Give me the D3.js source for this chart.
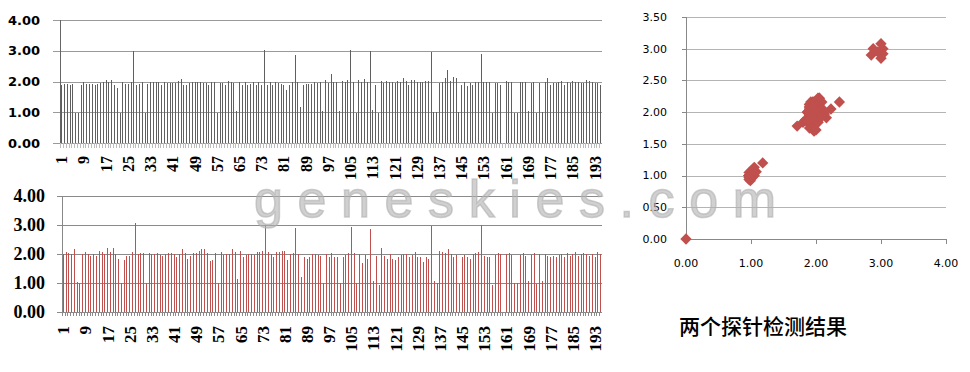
<!DOCTYPE html>
<html>
<head>
<meta charset="utf-8">
<script src="https://cdn.jsdelivr.net/npm/d3@7"></script>
<style>
  body { margin: 0; background: #fff; }
  svg { display: block; }
</style>
</head>
<body>
<svg id="chart" width="970" height="372"></svg>
<script>
// probe 1 (grey bars, top) and probe 2 (red bars, bottom), one value per sample
const probe1 = [
  1.87, 1.92, 1.92, 1.90, 1.92, 0.97, 0.97, 1.90, 2.00, 1.92,
  1.92, 1.92, 1.90, 1.92, 1.95, 2.00, 2.05, 2.00, 2.05, 1.90,
  1.80, 0.97, 1.97, 1.92, 1.92, 2.00, 3.00, 1.87, 1.92, 2.00,
  0.97, 1.92, 1.97, 2.00, 2.00, 1.97, 1.90, 1.97, 1.95, 1.95,
  1.95, 1.95, 2.03, 2.09, 1.90, 1.87, 1.95, 2.00, 1.97, 1.97,
  2.00, 1.95, 1.95, 1.90, 1.97, 1.97, 0.97, 1.95, 1.95, 1.87,
  2.03, 1.97, 1.95, 1.05, 1.97, 1.90, 1.97, 1.90, 1.92, 1.97,
  1.90, 2.00, 1.90, 3.03, 1.90, 1.97, 1.90, 1.97, 1.95, 1.92,
  1.90, 1.71, 1.90, 1.97, 2.85, 2.00, 1.18, 1.87, 1.92, 1.92,
  1.92, 1.97, 1.95, 1.97, 1.03, 2.05, 1.95, 2.23, 1.97, 2.00,
  1.05, 2.03, 1.97, 2.05, 3.03, 1.97, 0.97, 2.05, 1.97, 2.09,
  2.00, 3.00, 1.08, 1.90, 0.99, 2.03, 1.95, 2.03, 1.97, 2.00,
  1.95, 2.03, 1.97, 2.12, 2.03, 1.90, 2.05, 2.05, 2.00, 2.00,
  2.00, 2.03, 2.03, 2.95, 1.02, 1.02, 1.95, 2.00, 2.10, 2.36,
  2.03, 2.16, 2.13, 1.02, 1.90, 2.00, 1.84, 1.95, 1.90, 2.00,
  2.00, 2.88, 2.00, 1.97, 1.97, 0.97, 1.95, 1.95, 1.87, 0,
  2.03, 1.97, 1.97, 0.99, 0.99, 1.97, 2.00, 1.97, 1.05, 1.95,
  2.00, 0.97, 1.95, 1.02, 1.97, 2.10, 1.90, 1.95, 1.95, 2.00,
  2.03, 1.90, 2.00, 1.95, 2.03, 2.00, 2.00, 1.95, 1.95, 2.05,
  2.03, 1.97, 1.95, 1.95, 1.90
]
const probe2 = [
  2.00, 2.08, 2.05, 2.00, 2.16, 1.05, 1.00, 2.00, 2.08, 2.00,
  1.92, 2.00, 1.94, 2.12, 2.08, 2.00, 2.22, 2.08, 2.22, 2.00,
  1.84, 1.00, 1.81, 1.94, 1.92, 2.08, 3.08, 2.00, 2.05, 2.05,
  1.00, 2.05, 2.00, 2.00, 2.05, 1.97, 1.92, 2.00, 2.05, 2.05,
  2.00, 1.91, 2.00, 2.16, 2.05, 1.84, 1.94, 2.05, 2.05, 2.12,
  2.16, 2.16, 2.05, 1.75, 1.81, 2.05, 1.00, 2.08, 1.97, 2.00,
  2.00, 2.16, 2.08, 1.13, 2.12, 1.91, 1.97, 2.00, 2.00, 1.97,
  2.08, 2.08, 2.12, 3.00, 2.08, 2.00, 1.91, 2.08, 2.08, 2.12,
  2.12, 1.78, 2.00, 2.05, 2.90, 2.00, 1.20, 1.88, 1.84, 1.91,
  2.00, 2.00, 1.97, 1.94, 1.00, 2.00, 1.91, 2.05, 1.88, 1.91,
  1.00, 1.91, 1.97, 2.05, 2.92, 2.05, 1.00, 2.00, 1.70, 1.97,
  1.84, 2.85, 1.06, 1.94, 0.92, 2.22, 1.94, 1.84, 2.00, 1.84,
  1.78, 1.88, 1.97, 2.00, 2.00, 1.88, 1.97, 2.08, 1.88, 1.91,
  1.72, 1.88, 1.84, 2.95, 1.06, 1.00, 2.12, 2.08, 2.05, 2.16,
  2.00, 1.91, 1.97, 0.97, 1.91, 1.97, 1.88, 1.84, 2.00, 2.05,
  2.08, 3.00, 1.94, 1.88, 1.88, 0.94, 1.97, 2.05, 2.00, 0,
  2.00, 2.05, 1.97, 1.00, 1.00, 1.97, 2.05, 1.94, 1.06, 1.97,
  2.05, 0.97, 2.00, 1.08, 2.00, 1.94, 1.88, 1.94, 1.91, 1.97,
  2.00, 1.88, 2.05, 1.94, 2.00, 2.08, 1.94, 2.00, 2.05, 2.00,
  1.94, 2.00, 1.91, 2.08, 2.00
]
const samples = d3.range(1, probe1.length + 1)
const sampleLabels = samples.filter(d => (d - 1) % 8 === 0)   // 1, 9, 17 ... 193
const barTicks = [0, 1, 2, 3, 4]
const scatterTicksX = [0, 1, 2, 3, 4]
const scatterTicksY = [0, 0.5, 1, 1.5, 2, 2.5, 3, 3.5]
const title = '两个探针检测结果'
const watermark = 'geneskies.com'

const svg = d3.select('#chart')
svg.append('rect').attr('width', 970).attr('height', 372).attr('fill', '#fff')

const fmt = d3.format('.2f')

function barPanel(values, o) {
  const x = d3.scaleBand().domain(samples).range([o.left, o.right])
  const y = d3.scaleLinear().domain([0, 4]).range([o.bottom, o.top])
  const g = svg.append('g')

  g.selectAll('line.grid').data(barTicks).join('line')
    .attr('x1', o.gridLeft).attr('x2', o.right)
    .attr('y1', d => Math.round(y(d)) + 0.5)
    .attr('y2', d => Math.round(y(d)) + 0.5)
    .attr('stroke', o.gridColor)

  g.selectAll('line.tick').data(samples).join('line')
    .attr('x1', d => Math.round(x(d)) + 0.5)
    .attr('x2', d => Math.round(x(d)) + 0.5)
    .attr('y1', o.bottom).attr('y2', o.bottom + o.tickLen)
    .attr('stroke', o.tickColor)

  g.selectAll('rect.bar').data(values).join('rect')
    .attr('x', (d, i) => Math.round(x(samples[i]) + x.bandwidth() / 2 - 0.5))
    .attr('width', 1)
    .attr('y', d => y(d))
    .attr('height', d => y(0) - y(d))
    .attr('fill', o.barColor)
    .attr('shape-rendering', 'crispEdges')

  g.append('line')
    .attr('x1', Math.round(o.left) + 0.5).attr('x2', Math.round(o.left) + 0.5)
    .attr('y1', y(4)).attr('y2', y(0))
    .attr('stroke', o.axisColor)

  g.selectAll('text.ylab').data(barTicks).join('text')
    .attr('x', o.yLabelX).attr('y', d => y(d))
    .attr('dy', '0.35em')
    .attr('text-anchor', 'end')
    .style('font', o.yFont)
    .attr('fill', '#000')
    .text(fmt)

  g.selectAll('text.xlab').data(sampleLabels).join('text')
    .attr('transform', d => `translate(${x(d) + x.bandwidth() / 2 + o.xLabelShift},${o.xLabelY}) rotate(-90)`)
    .attr('text-anchor', 'end')
    .style('font', o.xFont)
    .attr('fill', '#000')
    .text(d => d)
}

barPanel(probe1, {
  left: 60.3, right: 602, top: 20, bottom: 143, gridLeft: 53,
  gridColor: '#9a9a9a', tickColor: '#bdbdbd', tickLen: 5,
  barColor: '#5f5f5f', axisColor: '#666',
  yLabelX: 40, yFont: 'bold 13px "DejaVu Sans", Verdana, sans-serif',
  xLabelY: 156, xLabelShift: 5.5, xFont: 'bold 16px "Liberation Serif", "Times New Roman", serif'
})

barPanel(probe2, {
  left: 61.9, right: 602, top: 196, bottom: 312, gridLeft: 57,
  gridColor: '#8a8a8a', tickColor: '#8a8a8a', tickLen: 4,
  barColor: '#C0504D', axisColor: '#888',
  yLabelX: 45, yFont: 'bold 18px "Liberation Serif", "Times New Roman", serif',
  xLabelY: 326, xLabelShift: 6, xFont: 'bold 17px "Liberation Serif", "Times New Roman", serif'
})

// scatter: probe 1 against probe 2 for each sample
const sx = d3.scaleLinear().domain([0, 4]).range([686, 946])
const sy = d3.scaleLinear().domain([0, 3.5]).range([239, 17])
const sc = svg.append('g')

sc.selectAll('line.grid').data(scatterTicksY.filter(d => d > 0)).join('line')
  .attr('x1', sx(0)).attr('x2', sx(4))
  .attr('y1', d => Math.round(sy(d)) + 0.5).attr('y2', d => Math.round(sy(d)) + 0.5)
  .attr('stroke', '#b4b4b4')

sc.selectAll('line.ytick').data(scatterTicksY).join('line')
  .attr('x1', sx(0) - 4).attr('x2', sx(0))
  .attr('y1', d => Math.round(sy(d)) + 0.5).attr('y2', d => Math.round(sy(d)) + 0.5)
  .attr('stroke', '#888')

sc.selectAll('line.xtick').data(scatterTicksX).join('line')
  .attr('x1', d => Math.round(sx(d)) + 0.5).attr('x2', d => Math.round(sx(d)) + 0.5)
  .attr('y1', sy(0)).attr('y2', sy(0) + 5)
  .attr('stroke', '#888')

sc.append('line')
  .attr('x1', sx(0) + 0.5).attr('x2', sx(0) + 0.5)
  .attr('y1', sy(3.5)).attr('y2', sy(0))
  .attr('stroke', '#888')
sc.append('line')
  .attr('x1', sx(0)).attr('x2', sx(4))
  .attr('y1', Math.round(sy(0)) + 0.5).attr('y2', Math.round(sy(0)) + 0.5)
  .attr('stroke', '#888')

sc.selectAll('text.ylab').data(scatterTicksY).join('text')
  .attr('x', 667).attr('y', d => sy(d)).attr('dy', '0.35em')
  .attr('text-anchor', 'end')
  .style('font', '11px "DejaVu Sans", Tahoma, sans-serif')
  .text(fmt)

sc.selectAll('text.xlab').data(scatterTicksX).join('text')
  .attr('x', d => sx(d)).attr('y', 263).attr('dy', '0.35em')
  .attr('text-anchor', 'middle')
  .style('font', '11px "DejaVu Sans", Tahoma, sans-serif')
  .text(fmt)

const diamond = d3.symbol(d3.symbolSquare, 64)
sc.selectAll('path.pt').data(samples).join('path')
  .attr('d', diamond)
  .attr('transform', (d, i) => `translate(${sx(probe1[i])},${sy(probe2[i])}) rotate(45)`)
  .attr('fill', '#C0504D')

svg.append('text')
  .attr('x', 679).attr('y', 334)
  .style('font', '500 21px "Noto Sans CJK SC", sans-serif')
  .attr('fill', '#000')
  .text(title)

// watermark sits over everything, like the stamped original
svg.append('text')
  .attr('x', 254).attr('y', 217)
  .attr('textLength', 522).attr('lengthAdjust', 'spacing')
  .style('font', '52px "Liberation Sans", Arial, sans-serif')
  .attr('stroke', '#b0b0b0').attr('stroke-width', 1.5).attr('stroke-opacity', 0.6)
  .attr('fill', '#b0b0b0').attr('fill-opacity', 0.6)
  .text(watermark)
</script>
</body>
</html>
